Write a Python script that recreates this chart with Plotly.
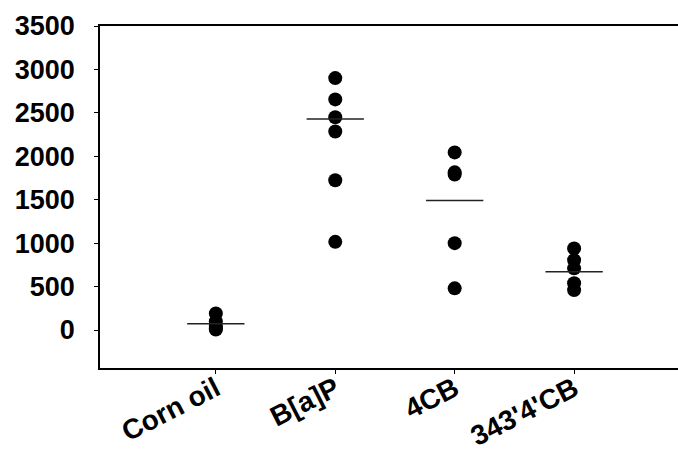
import plotly.graph_objects as go

categories = ["Corn oil", "B[a]P", "4CB", "343'4'CB"]
corn_oil = [190, 100, 50, 20, 5]
bap = [2900, 2655, 2450, 2285, 1725, 1015]
cb4 = [2045, 1815, 1790, 1000, 480]
cb343 = [940, 805, 710, 540, 460]
mean_lines = [73, 2430, 1490, 672]
ytick_vals = [0, 500, 1000, 1500, 2000, 2500, 3000, 3500]

groups = [corn_oil, bap, cb4, cb343]

fig = go.Figure()
for i, vals in enumerate(groups):
    pos = i + 1
    fig.add_trace(go.Scatter(
        x=[pos] * len(vals), y=vals, mode="markers",
        marker=dict(color="black", size=14, line=dict(width=0)),
        showlegend=False, hoverinfo="y"))
    fig.add_trace(go.Scatter(
        x=[pos - 0.24, pos + 0.24], y=[mean_lines[i]] * 2, mode="lines",
        line=dict(color="#222222", width=1.5),
        showlegend=False, hoverinfo="skip"))

yfont = dict(family="Liberation Sans, Arial, sans-serif", size=27, color="black", weight="bold")
xfont = dict(family="Liberation Sans, Arial, sans-serif", size=28, color="black", weight="bold")

fig.update_layout(
    width=678, height=456,
    margin=dict(l=100, r=0, t=26, b=88),
    paper_bgcolor="white", plot_bgcolor="white",
    xaxis=dict(range=[0.03, 4.87], tickvals=[1, 2, 3, 4], ticktext=categories,
               tickangle=-27, tickfont=xfont, showgrid=False, zeroline=False,
               showline=True, linecolor="black", linewidth=1.5, mirror=True,
               ticks="outside", ticklen=4, tickwidth=1.2, tickcolor="black",
               automargin=False, ticklabelstandoff=-12),
    yaxis=dict(range=[-437, 3500], tickvals=ytick_vals, tickfont=yfont,
               showgrid=False, zeroline=False, showline=True, linecolor="black",
               linewidth=1.5, ticks="outside", ticklen=4, tickwidth=1.2,
               tickcolor="black", ticklabelstandoff=14, automargin=False),
)

fig.write_html("out.html", config={"displayModeBar": False},
               post_script="document.body.style.margin='0';document.body.style.overflow='hidden';")
